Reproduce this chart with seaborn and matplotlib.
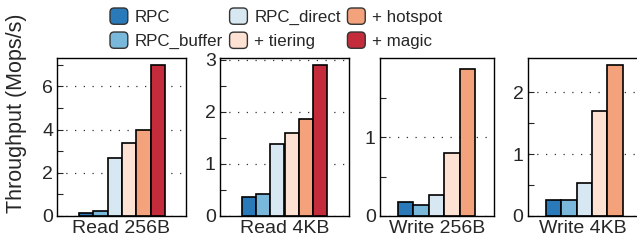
import matplotlib
matplotlib.use("Agg")
import matplotlib.pyplot as plt
from matplotlib.patches import FancyBboxPatch, Patch
from matplotlib.legend_handler import HandlerPatch
import seaborn as sns
import pandas as pd

# Данные
variants = ["RPC", "RPC_buffer", "RPC_direct", "+ tiering", "+ hotspot", "+ magic"]
colors = ["#2a7ab9", "#79b8da", "#d8e8f2", "#fde1d3", "#f4a27c", "#c42c3b"]
workloads = ["Read 256B", "Read 4KB", "Write 256B", "Write 4KB"]
read_256b = [0.15, 0.22, 2.67, 3.37, 4.0, 6.98]
read_4kb = [0.37, 0.43, 1.38, 1.6, 1.86, 2.9]
write_256b = [0.18, 0.145, 0.27, 0.8, 1.86]
write_4kb = [0.255, 0.265, 0.54, 1.69, 2.44]

values = [read_256b, read_4kb, write_256b, write_4kb]
ylims = [7.32, 3.03, 2.0, 2.55]
major = [[0, 2, 4, 6], [0, 1, 2, 3], [0, 1], [0, 1, 2]]
minor = [[1, 3, 5, 7], [0.5, 1.5, 2.5], [0.5, 1.5], [0.5, 1.5]]
xlims = [(-2.04, 6.97), (-2.0, 7.0), (-1.67, 5.73), (-1.7, 5.44)]

sns.set_style("white")
plt.rcParams["font.family"] = ["Liberation Sans", "DejaVu Sans"]

W, H = 637, 246
fig = plt.figure(figsize=(W / 100, H / 100), dpi=100)

# положение осей в пикселях: left, right
boxes = [(57.3, 185.7), (220, 349), (380, 494), (527.7, 637)]
bottom, top = 216, 58
palette = dict(zip(variants, colors))

for i, name in enumerate(workloads):
    l, r = boxes[i]
    ax = fig.add_axes([l / W, 1 - bottom / H, (r - l) / W, (bottom - top) / H])
    df = pd.DataFrame({"variant": variants[:len(values[i])], "value": values[i]})
    sns.barplot(data=df, x="variant", y="value", hue="variant", palette=palette, saturation=1,
                width=1.0, edgecolor="black", linewidth=1.2, legend=False, ax=ax)
    ax.set_xlim(*xlims[i])
    ax.set_ylim(0, ylims[i])
    ax.set_xticks([])
    ax.set_yticks(major[i])
    ax.set_yticks(minor[i], minor=True)
    ax.set_xlabel(name, fontsize=14, labelpad=3)
    ax.set_ylabel("")
    ax.tick_params(axis="y", which="major", direction="in", length=4, width=0.8,
                   labelsize=14, pad=3, left=True)
    ax.tick_params(axis="y", which="minor", direction="in", length=4, width=0.8, left=True)
    ax.grid(axis="y", which="major", linestyle=(0, (1, 6)), color="#333333", linewidth=0.9)
    ax.set_axisbelow(True)
    for s in ax.spines.values():
        s.set_color("black")
        s.set_linewidth(1.0)
    if i == 3:
        ax.spines["right"].set_visible(False)

fig.text(17 / W, 1 - 113 / H, "Throughput (Mops/s)", fontsize=15.5, rotation=90,
         ha="center", va="center")


class RoundHandler(HandlerPatch):
    def create_artists(self, legend, orig_handle, xdescent, ydescent, width, height, fontsize, trans):
        p = FancyBboxPatch((-xdescent, -ydescent), width, height,
                           boxstyle="round,pad=0,rounding_size=3",
                           facecolor=orig_handle.get_facecolor(), edgecolor="#333333", linewidth=1.0)
        p.set_transform(trans)
        return [p]


handles = [Patch(facecolor=c, label=v) for v, c in zip(variants, colors)]
fig.legend(handles=handles, ncol=3, loc="upper left", bbox_to_anchor=(110 / W, 1 - 8 / H),
           frameon=False, fontsize=12.2, handlelength=1.05, handleheight=1.1,
           handletextpad=0.4, columnspacing=0.4, labelspacing=0.42, borderpad=0, borderaxespad=0,
           handler_map={Patch: RoundHandler()})

fig.savefig("out.png", dpi=100)
